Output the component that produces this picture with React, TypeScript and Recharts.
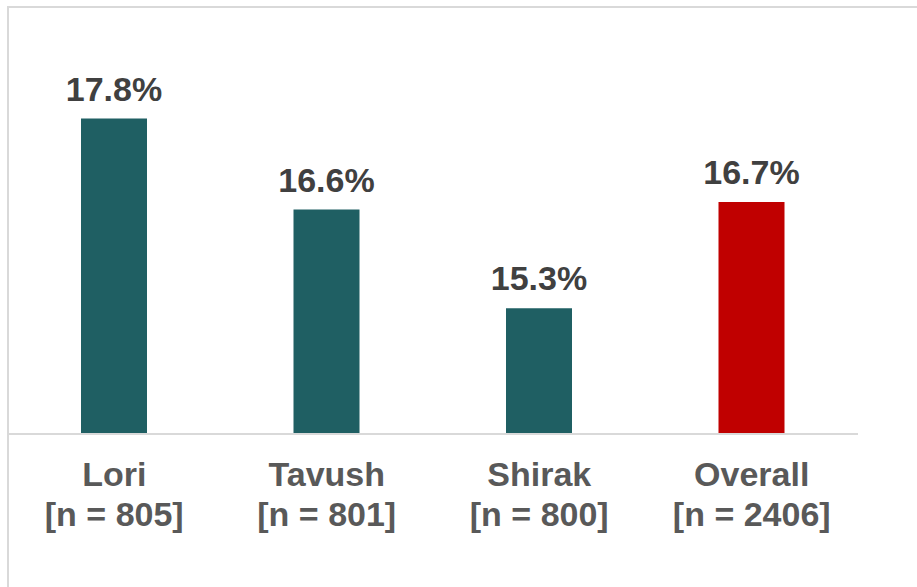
import { BarChart, Bar, XAxis, YAxis, LabelList, Cell } from 'recharts';

const regions = ['Lori', 'Tavush', 'Shirak', 'Overall'];
const sampleSizes = ['[n = 805]', '[n = 801]', '[n = 800]', '[n = 2406]'];
const shares = [17.8, 16.6, 15.3, 16.7];
const barColors = ['#1F5F63', '#1F5F63', '#1F5F63', '#C00000'];

const chartData = regions.map((name, i) => ({
  name,
  n: sampleSizes[i],
  value: shares[i],
}));

const FONT = '"Liberation Sans", Arial, sans-serif';

function CategoryTick(props: any) {
  const { x, y, payload } = props;
  const item = chartData[payload.index];
  return (
    <text
      x={x}
      y={y}
      textAnchor="middle"
      fill="#595959"
      fontFamily={FONT}
      fontWeight="bold"
      fontSize={34}
    >
      <tspan x={x} dy={44}>{item?.name}</tspan>
      <tspan x={x} dy={40}>{item?.n}</tspan>
    </text>
  );
}

export default function App() {
  return (
    <div
      style={{
        position: 'absolute',
        left: 0,
        top: 0,
        width: 917,
        height: 587,
        overflow: 'hidden',
        background: '#fff',
      }}
    >
      <div
        style={{
          position: 'absolute',
          left: 7,
          top: 6,
          width: 940,
          height: 620,
          border: '2px solid #D9D9D9',
          boxSizing: 'border-box',
        }}
      />
      <div style={{ position: 'absolute', left: 0, top: 0 }}>
        <BarChart
          width={917}
          height={587}
          data={chartData}
          margin={{ top: 20, right: 59, left: 8, bottom: 0 }}
        >
          <XAxis
            dataKey="name"
            axisLine={{ stroke: '#D9D9D9', strokeWidth: 2 }}
            tickLine={false}
            tick={<CategoryTick />}
            interval={0}
            height={153}
          />
          <YAxis hide domain={[13.64, 19.1]} allowDataOverflow />
          <Bar dataKey="value" barSize={66} isAnimationActive={false}>
            {chartData.map((_, i) => (
              <Cell key={`cell-${i}`} fill={barColors[i]} />
            ))}
            <LabelList
              dataKey="value"
              position="top"
              offset={18}
              formatter={(v: any) => `${Number(v).toFixed(1)}%`}
              fill="#404040"
              fontFamily={FONT}
              fontWeight="bold"
              fontSize={34}
            />
          </Bar>
        </BarChart>
      </div>
    </div>
  );
}
